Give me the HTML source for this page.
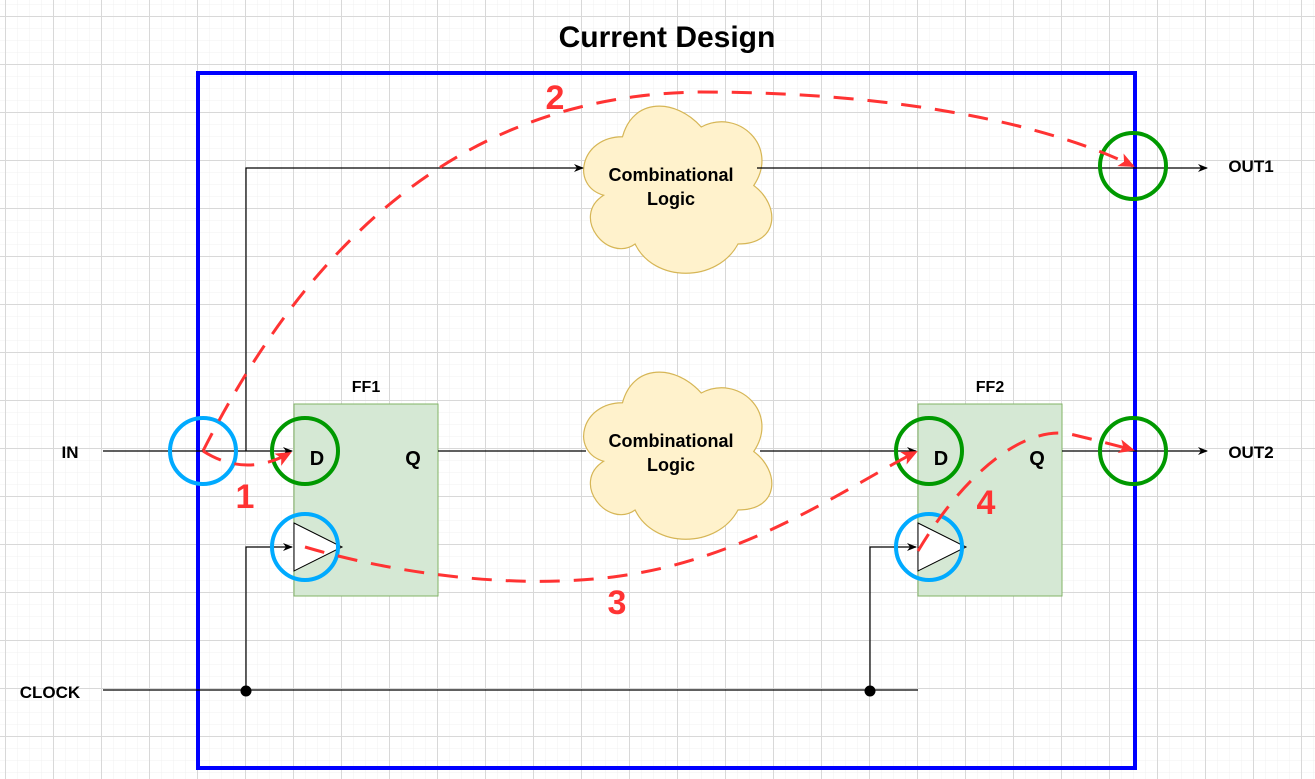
<!DOCTYPE html>
<html><head><meta charset="utf-8"><style>
html,body{margin:0;padding:0;background:#fff}
svg{display:block}
text{font-family:"Liberation Sans",Arial,sans-serif;font-weight:bold}
</style></head><body>
<svg width="1315" height="779" viewBox="0 0 1315 779" xmlns="http://www.w3.org/2000/svg">
<defs>
<pattern id="minor" width="12" height="12" patternUnits="userSpaceOnUse" x="5" y="4">
<path d="M0 0H12M0 0V12" stroke="#f0f0f0" stroke-width="1" fill="none"/>
</pattern>
<pattern id="major" width="48" height="48" patternUnits="userSpaceOnUse" x="5" y="16">
<path d="M0 0.5H48M0.5 0V48" stroke="#d8d8d8" stroke-width="1" fill="none"/>
</pattern>
<marker id="ab" markerWidth="10" markerHeight="8" refX="9" refY="4" orient="auto" markerUnits="userSpaceOnUse"><path d="M0,0 L10,4 L0,8 L3,4Z" fill="#000"/></marker>
<marker id="ar" markerWidth="16" markerHeight="14" refX="14" refY="7" orient="auto" markerUnits="userSpaceOnUse"><path d="M0,0 L16,7 L0,14 L4,7Z" fill="#ff3333"/></marker>
<g id="cloud"><path d="M52.5,48.75 C10.5,48.75 0,97.5 33.6,107.25 C0,128.7 37.8,175.5 65.1,156 C84,195 147,195 168,156 C210,156 210,117 183.75,97.5 C210,58.5 168,19.5 131.25,39 C105,9.75 63,9.75 52.5,48.75Z" fill="#fff2cc" stroke="#d6b656" stroke-width="1.2"/></g>
</defs>
<rect width="1315" height="779" fill="url(#minor)"/>
<rect width="1315" height="779" fill="url(#major)"/>

<text x="667" y="47" font-size="30" text-anchor="middle" fill="#000">Current Design</text>

<rect x="198" y="73" width="937" height="695" fill="none" stroke="#0000ff" stroke-width="4"/>

<!-- FFs -->
<rect x="294" y="404" width="144" height="192" fill="#d5e8d4" stroke="#82b366" stroke-width="1"/>
<rect x="918" y="404" width="144" height="192" fill="#d5e8d4" stroke="#82b366" stroke-width="1"/>
<path d="M294,523 L342,547 L294,571Z" fill="#fff" stroke="#000" stroke-width="1"/>
<path d="M918,523 L966,547 L918,571Z" fill="#fff" stroke="#000" stroke-width="1"/>
<text x="366" y="392" font-size="16" text-anchor="middle">FF1</text>
<text x="990" y="392" font-size="16" text-anchor="middle">FF2</text>
<text x="317" y="465" font-size="20" text-anchor="middle">D</text>
<text x="413" y="465" font-size="20" text-anchor="middle">Q</text>
<text x="941" y="465" font-size="20" text-anchor="middle">D</text>
<text x="1037" y="465" font-size="20" text-anchor="middle">Q</text>

<!-- clouds -->
<use href="#cloud" x="570" y="88"/>
<use href="#cloud" x="570" y="354"/>
<text x="671" y="181" font-size="18" text-anchor="middle">Combinational</text>
<text x="671" y="205" font-size="18" text-anchor="middle">Logic</text>
<text x="671" y="447" font-size="18" text-anchor="middle">Combinational</text>
<text x="671" y="471" font-size="18" text-anchor="middle">Logic</text>

<!-- wires -->
<g stroke="#000" stroke-width="1.2" fill="none">
<path d="M103,451 H292" marker-end="url(#ab)"/>
<path d="M246,451 V168 H583" marker-end="url(#ab)"/>
<path d="M757,168 H1207" marker-end="url(#ab)"/>
<path d="M438,451 H586"/>
<path d="M760,451 H916" marker-end="url(#ab)"/>
<path d="M1062,451 H1207" marker-end="url(#ab)"/>
<path d="M103,690 H918"/>
<path d="M246,690 V547 H292" marker-end="url(#ab)"/>
<path d="M870,690 V547 H916" marker-end="url(#ab)"/>
</g>
<circle cx="246" cy="691" r="5.5" fill="#000"/>
<circle cx="870" cy="691" r="5.5" fill="#000"/>

<text x="70" y="458" font-size="17" text-anchor="middle">IN</text>
<text x="50" y="698" font-size="17" text-anchor="middle">CLOCK</text>
<text x="1251" y="172" font-size="17" text-anchor="middle">OUT1</text>
<text x="1251" y="458" font-size="17" text-anchor="middle">OUT2</text>

<!-- circles -->
<g fill="none" stroke-width="4">
<circle cx="203" cy="451" r="33" stroke="#00aaff"/>
<circle cx="305" cy="451" r="33" stroke="#009900"/>
<circle cx="305" cy="547" r="33" stroke="#00aaff"/>
<circle cx="929" cy="451" r="33" stroke="#009900"/>
<circle cx="929" cy="547" r="33" stroke="#00aaff"/>
<circle cx="1133" cy="451" r="33" stroke="#009900"/>
<circle cx="1133" cy="166" r="33" stroke="#009900"/>
</g>

<!-- red dashed paths -->
<g fill="none" stroke="#ff3333" stroke-width="3" stroke-dasharray="20,14">
<path d="M203,451 Q245,478 290,453" marker-end="url(#ar)"/>
<path d="M203,451 C320,220 480,95 700,92 C900,92 1050,125 1133,166" marker-end="url(#ar)"/>
<path d="M305,547 C400,575 520,590 620,576 C750,558 850,485 916,452" marker-end="url(#ar)"/>
<path d="M918,551 C960,480 1020,425 1070,434 C1095,440 1115,445 1133,450" marker-end="url(#ar)"/>
</g>
<g fill="#ff3333" font-size="34">
<text x="245" y="508" text-anchor="middle">1</text>
<text x="555" y="109" text-anchor="middle">2</text>
<text x="617" y="614" text-anchor="middle">3</text>
<text x="986" y="514" text-anchor="middle">4</text>
</g>
</svg>
</body></html>
